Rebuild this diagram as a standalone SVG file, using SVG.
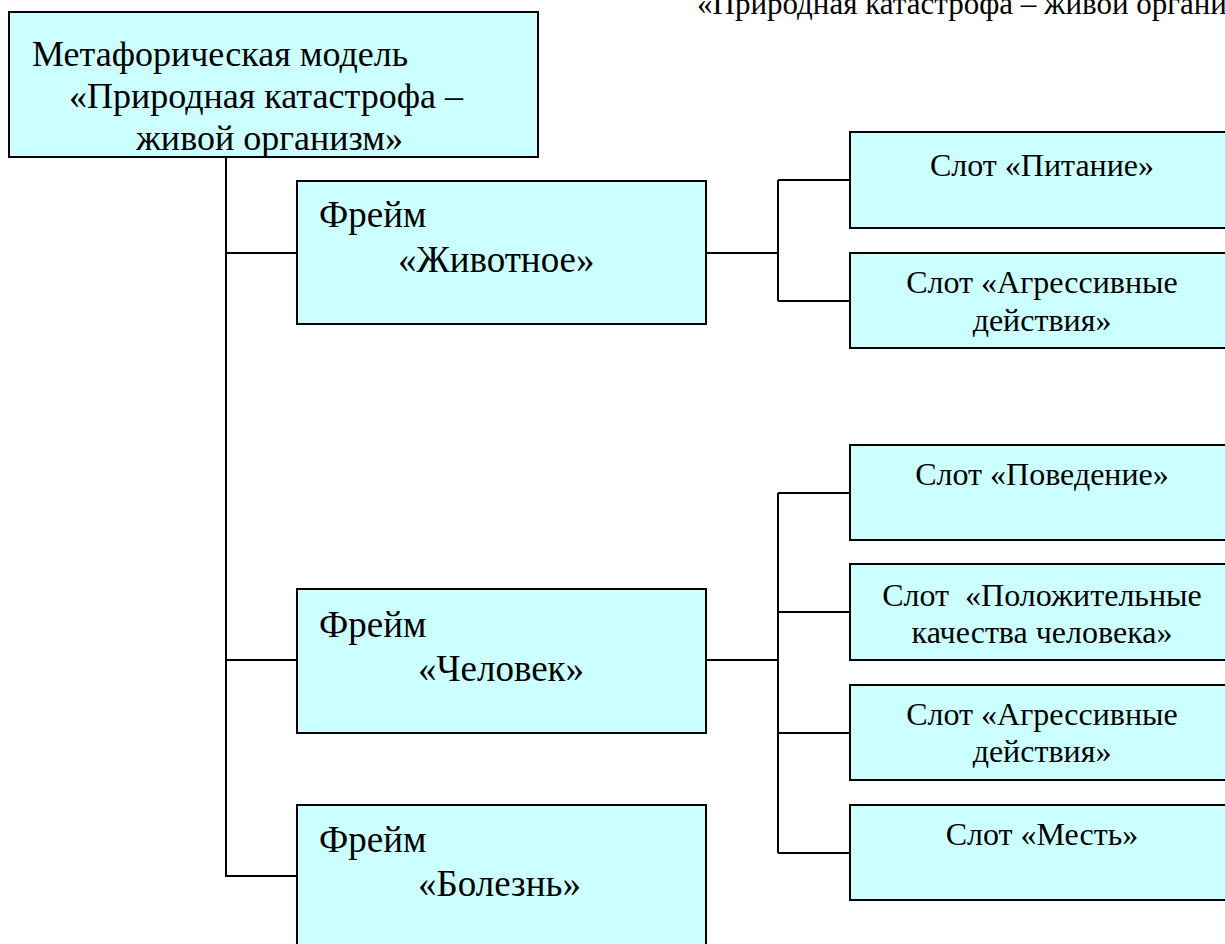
<svg xmlns="http://www.w3.org/2000/svg" width="1225" height="944" viewBox="0 0 1225 944">
<style>
.box{fill:#CCFFFF;stroke:#000;stroke-width:2}
.t{font-family:"Liberation Serif","Times New Roman",serif;fill:#000}
.big{font-size:36px}
.fr{font-size:37px}
.sl{font-size:32px;text-anchor:middle}
.con{fill:none;stroke:#000;stroke-width:2}
</style>
<rect width="1225" height="944" fill="#fff"/>
<text class="t" x="697" y="14" font-size="31">«Природная катастрофа – живой организм»</text>
<g id="connectors">
<path class="con" d="M226 157V876H297M226 253H297M226 660H297"/>
<path class="con" d="M706 253H778M778 180V301M778 180H850M778 301H850"/>
<path class="con" d="M706 660H778M778 493V853M778 493H850M778 612H850M778 733H850M778 853H850"/>
</g>
<g id="root">
<rect class="box" x="9" y="12" width="529" height="145"/>
<text class="t big" x="32" y="66">Метафорическая модель</text>
<text class="t big" x="69" y="108">«Природная катастрофа –</text>
<text class="t big" x="136" y="150">живой организм»</text>
</g>
<g id="frame-animal">
<rect class="box" x="297" y="181" width="409" height="143"/>
<text class="t fr" x="319" y="227">Фрейм</text>
<text class="t fr" x="398" y="272">«Животное»</text>
</g>
<g id="frame-human">
<rect class="box" x="297" y="589" width="409" height="144"/>
<text class="t fr" x="319" y="637">Фрейм</text>
<text class="t fr" x="418" y="681">«Человек»</text>
</g>
<g id="frame-illness">
<rect class="box" x="297" y="805" width="409" height="150"/>
<text class="t fr" x="319" y="852">Фрейм</text>
<text class="t fr" x="418" y="896">«Болезнь»</text>
</g>
<g id="slot-food">
<rect class="box" x="850" y="132" width="384" height="96"/>
<text class="t sl" x="1042" y="176">Слот «Питание»</text>
</g>
<g id="slot-aggr1">
<rect class="box" x="850" y="253" width="384" height="95"/>
<text class="t sl" x="1042" y="293">Слот «Агрессивные</text>
<text class="t sl" x="1042" y="331">действия»</text>
</g>
<g id="slot-behavior">
<rect class="box" x="850" y="445" width="384" height="95"/>
<text class="t sl" x="1042" y="485">Слот «Поведение»</text>
</g>
<g id="slot-positive">
<rect class="box" x="850" y="564" width="384" height="96"/>
<text class="t sl" x="1042" y="606" xml:space="preserve">Слот  «Положительные</text>
<text class="t sl" x="1042" y="643">качества человека»</text>
</g>
<g id="slot-aggr2">
<rect class="box" x="850" y="685" width="384" height="95"/>
<text class="t sl" x="1042" y="725">Слот «Агрессивные</text>
<text class="t sl" x="1042" y="762">действия»</text>
</g>
<g id="slot-revenge">
<rect class="box" x="850" y="805" width="384" height="95"/>
<text class="t sl" x="1042" y="845">Слот «Месть»</text>
</g>
</svg>
